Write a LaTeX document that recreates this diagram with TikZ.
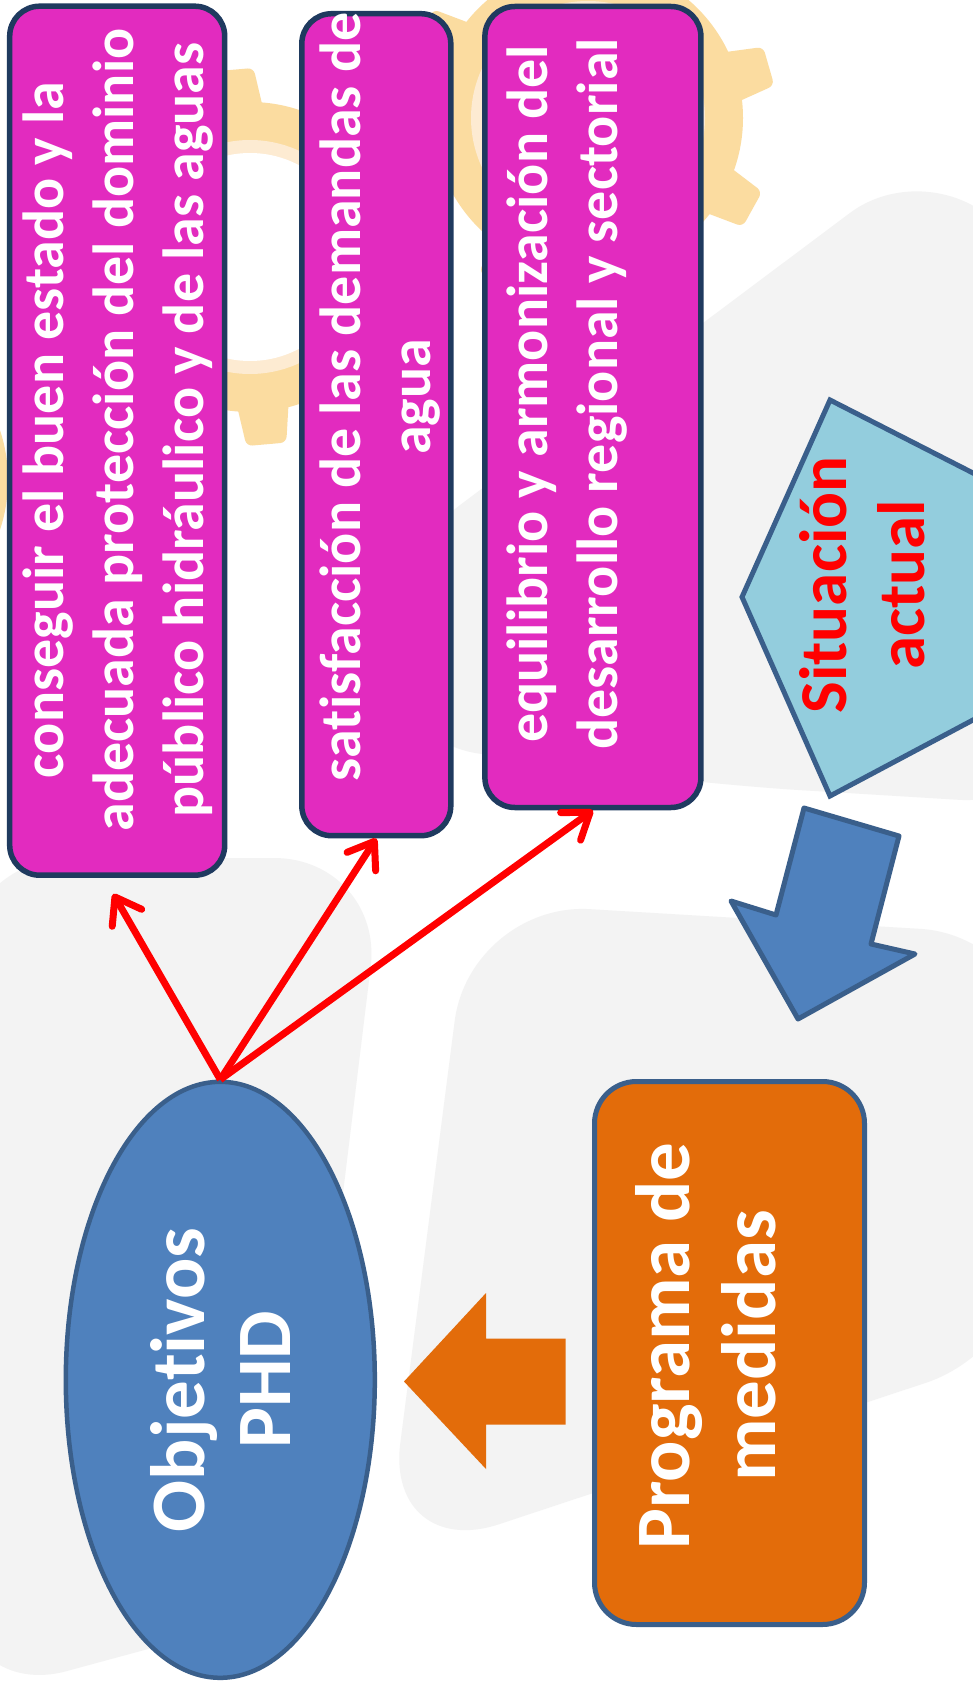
\documentclass[tikz,border=0pt]{standalone}
\usepackage{fontspec}
\setmainfont{Carlito}[Ligatures=NoCommon]
\usepackage{tikz}
\usetikzlibrary{shapes.geometric,arrows.meta,positioning}

\definecolor{bggray}{HTML}{F3F3F3}
\definecolor{gearfill}{HTML}{FBDCA0}
\definecolor{gearring}{HTML}{FDEBD2}
\definecolor{magfill}{HTML}{E22BBF}
\definecolor{navyline}{HTML}{1F3A5F}
\definecolor{phdblue}{HTML}{4F81BD}
\definecolor{phdline}{HTML}{3A5F8B}
\definecolor{medorange}{HTML}{E36C0A}
\definecolor{sitcyan}{HTML}{93CDDD}

% center, body radius, hole radius, first tooth angle
\newcommand{\gearat}[4]{%
  \begin{scope}[shift={(#1)}]
    \fill[gearfill] (0,0) circle (#2);
    \foreach \a in {0,45,...,315}
      \fill[gearfill, rotate=#4+\a, rounded corners=6pt] (#2-15,-27) -- (#2+33,-20) -- (#2+33,20) -- (#2-15,27) -- cycle;
    \fill[gearring] (0,0) circle (#3+13);
    \fill[white] (0,0) circle (#3);
  \end{scope}}

\begin{document}
\begin{tikzpicture}[x=1pt,y=-1pt,
    objbox/.style={draw=navyline, line width=5.5pt, fill=magfill, rounded corners=30pt},
    boxtext/.style={text=white, rotate=90, align=center, inner sep=0pt, font=\fontsize{58}{70}\selectfont\bfseries},
    bigtext/.style={text=white, rotate=90, align=center, inner sep=0pt, font=\fontsize{77}{86}\selectfont\bfseries},
    redarr/.style={draw=red, line width=7pt, -{Straight Barb[length=24pt,width=34pt,round]}}]
    \useasboundingbox (0,0) rectangle (973,1685);
    \fill[white] (0,0) rectangle (973,1685);
    % background
    \fill[bggray, rounded corners=110pt] (-40,858) -- (384,858) -- (292,1610) -- (-40,1700) -- cycle;
    \fill[bggray, rounded corners=120pt] (470,902) -- (1040,936) -- (1040,1345) -- (385,1562) -- cycle;
    \fill[bggray, rounded corners=100pt] (380,565) -- (930,153) -- (1060,290) -- (1060,806) -- (700,784) -- (380,740) -- cycle;
    \fill[gearfill] (-150,480) circle (158);
    \gearat{250,257}{155}{104}{95}
    \gearat{588,118}{155}{104}{16}

    % objetivos
    \node[objbox, minimum width=215pt, minimum height=869pt] (obj1) at (117.2,440.7) {};
    \node[objbox, minimum width=149pt, minimum height=822pt] (obj2) at (376.3,424.7) {};
    \node[objbox, minimum width=216pt, minimum height=801pt] (obj3) at (592.9,407) {};
    \node[boxtext] (obj1txt) at (118,430) {conseguir el buen estado y la\\adecuada protección del dominio\\público hidráulico y de las aguas};
    \node[boxtext] (obj2txt) at (380,397) {satisfacción de las demandas de\\agua};
    \node[boxtext] (obj3txt) at (567,394) {equilibrio y armonización del\\desarrollo regional y sectorial};

    % situacion actual
    \filldraw[fill=sitcyan, draw=phdline, line width=5pt] (830,400) -- (1020,497) -- (1020,695) -- (830,796) -- (742,597) -- cycle;
    \node[bigtext, text=red, font=\fontsize{67}{78}\selectfont\bfseries] (sit) at (862,585) {Situación\\actual};
    \filldraw[fill=phdblue, draw=phdline, line width=5pt, line join=round] (804,808) -- (899,836) -- (871,944) -- (915,954) -- (798,1019) -- (731,901) -- (776,915) -- cycle;

    % programa de medidas
    \node[draw=phdline, line width=5pt, fill=medorange, rounded corners=42pt, minimum width=270pt, minimum height=543pt] (progbox) at (729.5,1353) {};
    \node[bigtext] (prog) at (706,1346) {Programa de\\medidas};
    \fill[medorange] (404,1381.5) -- (486,1293) -- (486,1338.5) -- (565.5,1338.5) -- (565.5,1424.5) -- (486,1424.5) -- (486,1469) -- cycle;

    \node[ellipse, rotate=90, draw=phdline, line width=4.5pt, fill=phdblue, minimum width=596pt, minimum height=309pt, text=white, align=center, font=\fontsize{77}{86}\selectfont\bfseries] (phd) at (220.3,1379.8) {Objetivos\\PHD};

    \draw[redarr] (phd.east) -- ([xshift=-4pt,yshift=-16pt]obj1.south);
    \draw[redarr] (phd.east) -- (obj2.south);
    \draw[redarr] (phd.east) -- (obj3.south);
\end{tikzpicture}
\end{document}
